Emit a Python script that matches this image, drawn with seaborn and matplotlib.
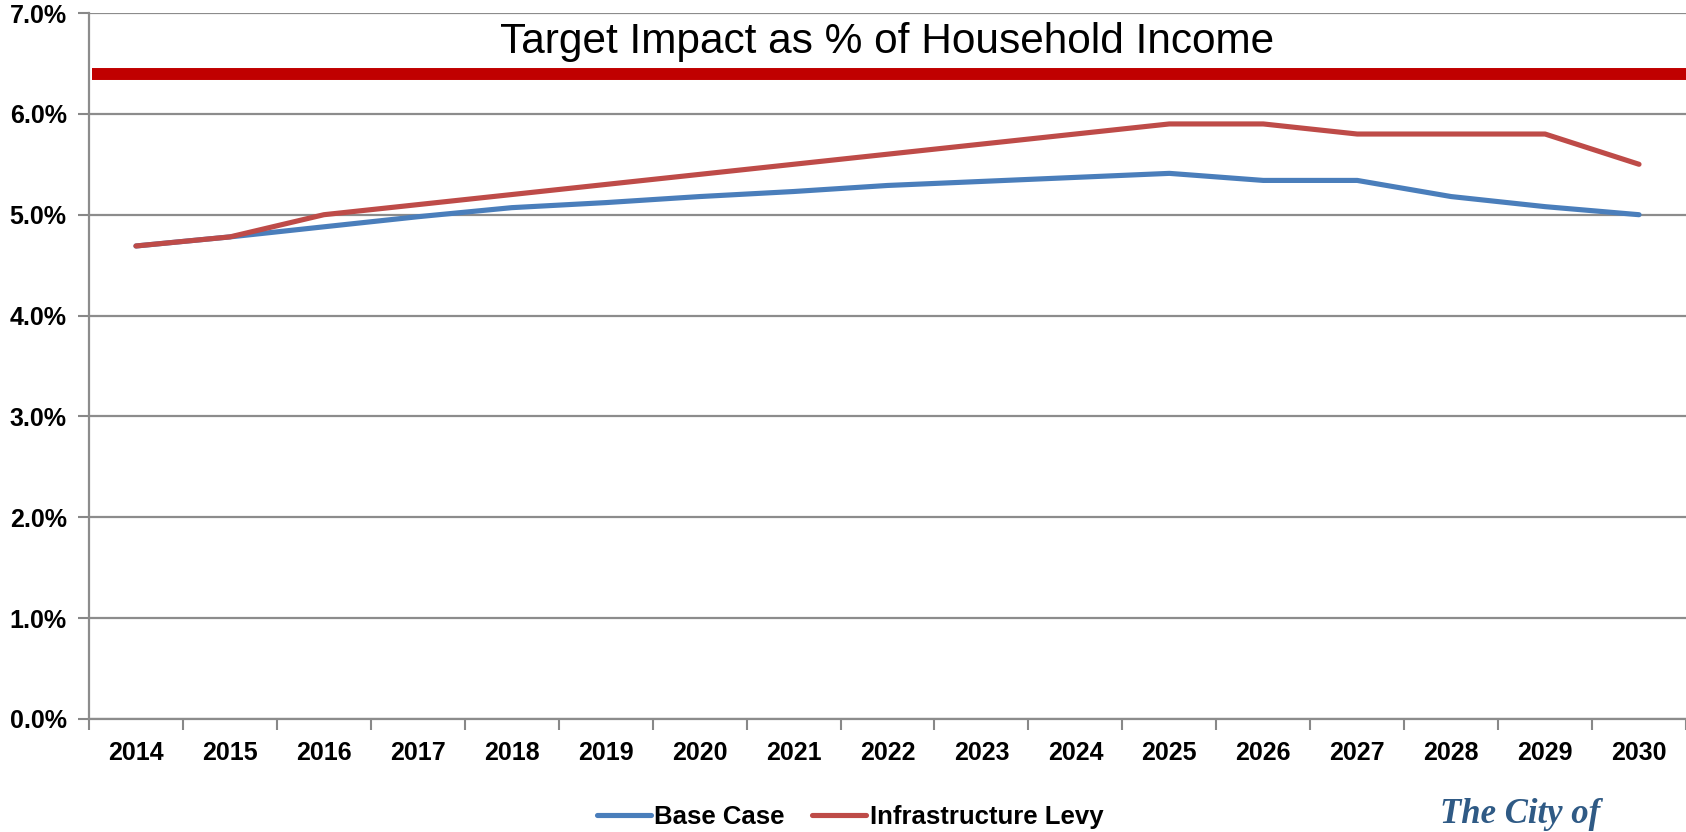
import matplotlib
matplotlib.use("Agg")
import matplotlib.pyplot as plt
from matplotlib.ticker import FixedLocator, FuncFormatter, NullFormatter
import seaborn as sns
import pandas as pd

years = [2014, 2015, 2016, 2017, 2018, 2019, 2020, 2021, 2022,
         2023, 2024, 2025, 2026, 2027, 2028, 2029, 2030]
base_case = [4.69, 4.78, 4.88, 4.98, 5.07, 5.12, 5.18, 5.23, 5.29,
             5.33, 5.37, 5.41, 5.34, 5.34, 5.18, 5.08, 5.00]
infrastructure_levy = [4.69, 4.78, 5.00, 5.10, 5.20, 5.30, 5.40, 5.50, 5.60,
                       5.70, 5.80, 5.90, 5.90, 5.80, 5.80, 5.80, 5.50]
series_names = ["Base Case", "Infrastructure Levy"]
series_colors = ["#4a7ebb", "#be4b48"]
target_pct = 6.4
target_label = "Target Impact as % of Household Income"
y_ticks = [0, 1, 2, 3, 4, 5, 6, 7]

sns.set_theme(style="white")
plt.rcParams["font.family"] = ["Liberation Sans", "DejaVu Sans"]
plt.rcParams["text.color"] = "black"

pos = list(range(len(years)))
df = pd.DataFrame({
    "pos": pos * 2,
    "value": base_case + infrastructure_levy,
    "series": [series_names[0]] * len(years) + [series_names[1]] * len(years),
})

fig = plt.figure(figsize=(16.86, 8.32), dpi=100)
ax = fig.add_axes([89 / 1686, 1 - 719 / 832, 1 - 89 / 1686, (719 - 13) / 832])

sns.lineplot(data=df, x="pos", y="value", hue="series",
             palette=dict(zip(series_names, series_colors)),
             linewidth=3.7, ax=ax, legend=False, zorder=3)

# target threshold line and its caption
ax.axhline(target_pct, xmin=0.002, xmax=1, color="#c00000", linewidth=8.6,
           solid_capstyle="butt", zorder=4)
ax.text(0.5, (719 - 52.5) / 706, target_label, transform=ax.transAxes,
        ha="center", va="baseline", fontsize=30.5, color="black")

ax.set_xlim(-0.5, len(years) - 0.5)
ax.set_ylim(0, 7)

# category axis: tick marks between categories, labels centred
ax.xaxis.set_major_locator(FixedLocator([p - 0.5 for p in pos] + [len(years) - 0.5]))
ax.xaxis.set_major_formatter(NullFormatter())
ax.set_xticks(pos, minor=True)
ax.set_xticklabels([str(y) for y in years], minor=True,
                   fontsize=18, fontweight="bold")
ax.tick_params(axis="x", which="major", direction="out", length=8,
               width=1.5, color="#888888", bottom=True)
ax.tick_params(axis="x", which="minor", length=0, pad=16, labelcolor="black")

ax.set_yticks(y_ticks)
ax.yaxis.set_major_formatter(FuncFormatter(lambda v, _: f"{v:.1f}%"))
for lab in ax.get_yticklabels():
    lab.set_fontweight("bold")
    lab.set_fontsize(18)
ax.tick_params(axis="y", direction="out", length=8, width=1.5,
               color="#888888", left=True, pad=8, labelcolor="black")

ax.grid(axis="y", color="#8c8c8c", linewidth=1.6)
ax.grid(axis="x", visible=False)
for side in ["top", "right"]:
    ax.spines[side].set_visible(False)
for side in ["left", "bottom"]:
    ax.spines[side].set_color("#8c8c8c")
    ax.spines[side].set_linewidth(1.6)
ax.set_xlabel("")
ax.set_ylabel("")

handles = [plt.Line2D([], [], color=c, linewidth=3.7, solid_capstyle="round")
           for c in series_colors]
fig.legend(handles, series_names, loc="center", bbox_to_anchor=(850 / 1686, 1 - 817 / 832),
           ncol=2, frameon=False, handlelength=2.1, handletextpad=0.15,
           columnspacing=1.05, labelcolor="black",
           prop={"weight": "bold", "size": 18.5})

fig.text(1520 / 1686, 9 / 832, "The City of", ha="center", va="baseline",
         fontsize=25, fontweight="bold", fontstyle="italic",
         family=["Liberation Serif", "DejaVu Serif"], color="#2f5a85")

fig.savefig("out.png", dpi=100, facecolor="white")
